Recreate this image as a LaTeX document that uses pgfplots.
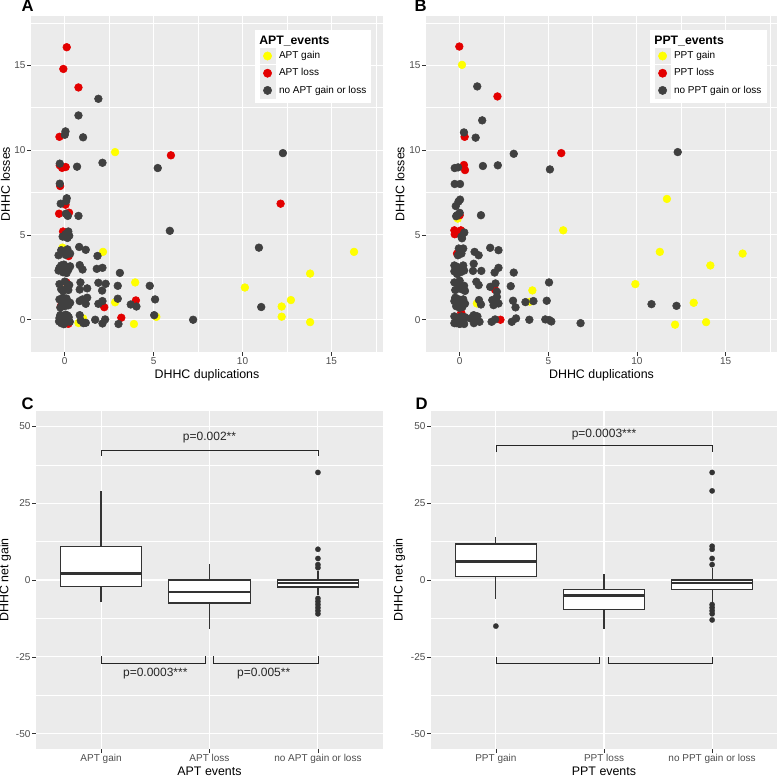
\documentclass[border=0pt]{standalone}
\usepackage{fontspec}
\setmainfont{Liberation Sans}
\usepackage{pgfplots}
\pgfplotsset{compat=1.18}
\usepgfplotslibrary{statistics}

\definecolor{gray92}{HTML}{EBEBEB}
\definecolor{grey20}{HTML}{333333}
\definecolor{grey30}{HTML}{4D4D4D}
\definecolor{ptgrey}{HTML}{404040}
\definecolor{ptred}{HTML}{E30000}
\definecolor{ptyellow}{HTML}{FFFF00}

\pgfplotsset{
  ggbase/.style={
    scale only axis,
    axis background/.style={fill=gray92},
    axis line style={draw=none},
    grid=both,
    major grid style={white, line width=0.8pt},
    minor grid style={white, line width=0.4pt},
    tick align=outside,
    tick pos=left,
    major tick length=3pt,
    minor tick length=0pt,
    tick style={grey20, line width=0.45pt},
    ticklabel style={font=\fontsize{7.5}{8.5}\selectfont, text=grey30, inner sep=1pt},
    label style={font=\fontsize{9.3}{11}\selectfont},
  },
  scat/.style={
    ggbase,
    xmin=-1.9, xmax=17.9, ymin=-1.9, ymax=17.9,
    xtick={0,5,10,15}, xticklabels={0,5,10,15},
    ytick={0,5,10,15}, yticklabels={0,5,10,15},
    minor xtick={2.5,7.5,12.5,17.5},
    minor ytick={2.5,7.5,12.5,17.5},
    xlabel={DHHC duplications}, ylabel={DHHC losses},
    xlabel style={at={(axis description cs:0.5,-0.068)}, anchor=center},
    legend cell align=left,
    legend style={draw=none, fill=white, anchor=north west, inner sep=3.3pt,
      font=\fontsize{7.5}{8.5}\selectfont, nodes={inner sep=0.6pt}, column sep=2pt, row sep=0.9pt},
    legend image code/.code={
      \fill[gray92] (0pt,-5.8pt) rectangle (11.6pt,5.8pt);
      \draw[mark size=3.1pt] plot coordinates {(5.8pt,0pt)};
    },
  },
  pts/.style={only marks, mark=*, mark size=2.9pt, color=#1, mark options={draw=#1, fill=#1}},
  boxax/.style={
    ggbase,
    xmin=0.4, xmax=3.6, ymin=-55, ymax=55,
    xtick={1,2,3},
    ytick={-50,-25,0,25,50}, yticklabels={-50,-25,0,25,50},
    minor ytick={-37.5,-12.5,12.5,37.5},
    ylabel={DHHC net gain},
    xlabel style={at={(axis description cs:0.5,-0.065)}, anchor=center},
    boxplot/draw direction=y,
    boxplot/box extend=0.75,
    boxplot/whisker extend=0,
    boxplot/every box/.style={fill=white},
    boxplot/every median/.style={line width=2pt},
  },
  bx/.style={draw=grey20, line width=0.9pt, mark=*, mark size=2pt,
    mark options={fill=grey20, draw=grey20, solid, line width=0.2pt}},
  brk/.style={black!85, line width=0.5pt, mark=none},
}

\begin{document}
\begin{tikzpicture}
\useasboundingbox (0,0) rectangle (583.5pt,582pt);

% ---------------- Panel A ----------------
\begin{axis}[scat, at={(23.25pt,570pt)}, anchor=north west, width=264pt, height=252pt,
  ylabel style={at={(axis description cs:-0.0725,0.5)}, anchor=center},
  legend style={at={(axis description cs:0.636,0.958)}}]
\addlegendimage{empty legend}
\addlegendentry{\hspace*{-14.8pt}\fontsize{9.2}{10}\selectfont\bfseries APT\_events}
\addplot[pts=ptyellow] coordinates {
(2.83,9.88) (-0.13,4.25) (2.15,4.0) (0.04,1.8) (3.96,2.2) (2.83,1.03) (0.77,-0.19)
(1.03,0.08) (3.89,-0.25) (5.15,0.17) (10.13,1.9) (13.8,2.72) (16.27,4.0) (12.72,1.16)
(12.2,0.78) (12.2,0.18) (13.8,-0.14) (-0.05,0.1)
};
\addlegendentry{APT gain}
\addplot[pts=ptred] coordinates {
(0.11,16.06) (-0.08,14.78) (0.77,13.69) (-0.3,10.78) (5.97,9.69) (-0.28,9.1) (-0.15,8.95)
(0.05,9.0) (-0.26,7.88) (12.14,6.84) (0.04,6.78) (-0.32,6.25) (0.24,6.31) (-0.1,5.2)
(0.22,3.75) (0.09,2.2) (2.22,0.74) (4.0,1.14) (3.18,0.12) (0.0,-0.22) (0.2,-0.24) (-0.22,0.8)
};
\addlegendentry{APT loss}
\addplot[pts=ptgrey] coordinates {
(1.89,13.02) (0.77,12.04) (0.04,11.1) (0.0,10.9) (1.03,10.75) (12.27,9.82) (-0.28,9.2)
(0.69,9.02) (2.12,9.25) (5.23,8.94) (-0.28,8.02) (0.11,7.16) (0.08,7.0) (-0.23,6.84)
(0.06,6.25) (0.17,6.12) (0.77,6.12) (5.91,5.24) (0.2,5.2) (0.05,5.05) (-0.12,4.9)
(0.15,4.82) (0.25,4.95) (10.92,4.25) (0.81,4.29) (1.18,4.12) (1.84,3.76) (11.05,0.75)
(7.22,0.0) (3.1,2.76) (1.8,3.0) (2.12,3.06) (0.84,3.22) (1.0,2.96) (4.78,2.0) (2.98,2.0)
(0.88,2.2) (0.84,1.78) (1.26,1.85) (1.89,2.18) (2.3,2.12) (2.1,1.72) (5.08,1.2) (2.98,1.24)
(3.71,0.9) (4.03,0.78) (0.84,1.1) (1.26,1.3) (1.18,0.94) (1.0,1.2) (1.89,0.94) (2.12,1.1)
(5.03,0.27) (3.02,-0.25) (1.71,0.0) (2.12,-0.22) (2.27,0.02) (1.18,-0.18) (0.84,0.27)
(0.9,-0.05) (1.05,-0.2)
(-0.3,0.1) (-0.2,-0.2) (-0.1,0.2) (0.0,0.02) (0.12,-0.1) (0.22,0.15) (0.28,-0.12)
(-0.25,0.28) (0.05,0.3) (-0.05,-0.26) (0.15,0.25) (-0.32,-0.1)
(-0.3,1.2) (-0.15,0.9) (-0.05,1.1) (0.1,1.25) (0.2,0.85) (0.3,1.0) (-0.25,0.72) (0.0,0.8) (-0.1,1.3)
(-0.3,2.1) (-0.2,1.8) (0.0,2.25) (0.15,1.9) (0.25,2.05) (-0.1,1.7) (0.2,1.75)
(-0.35,2.9) (-0.2,3.2) (-0.1,2.8) (0.05,3.1) (0.2,2.95) (0.3,3.15) (-0.3,3.05) (0.1,2.75) (-0.05,3.25)
(-0.35,3.8) (-0.2,4.1) (0.05,3.82) (0.15,4.15) (0.3,3.9) (-0.1,4.0)
};
\addlegendentry{no APT gain or loss}
\end{axis}

% ---------------- Panel B ----------------
\begin{axis}[scat, at={(319.5pt,570pt)}, anchor=north west, width=263.25pt, height=252pt,
  ylabel style={at={(axis description cs:-0.074,0.5)}, anchor=center},
  legend style={at={(axis description cs:0.638,0.958)}}]
\addlegendimage{empty legend}
\addlegendentry{\hspace*{-14.8pt}\fontsize{9.2}{10}\selectfont\bfseries PPT\_events}
\addplot[pts=ptyellow] coordinates {
(0.13,15.02) (-0.11,5.96) (5.84,5.27) (11.69,7.12) (11.29,4.0) (15.96,3.9) (14.14,3.2)
(9.91,2.1) (13.2,1.0) (13.9,-0.14) (12.15,-0.29) (4.1,1.73) (3.97,1.06) (0.97,0.96)
};
\addlegendentry{PPT gain}
\addplot[pts=ptred] coordinates {
(-0.02,16.1) (2.13,13.16) (0.28,10.78) (5.73,9.82) (0.24,9.12) (0.3,8.82) (0.0,6.16)
(-0.3,5.27) (-0.28,5.04) (0.07,5.27) (-0.15,5.1) (-0.15,3.9) (1.99,1.78) (2.3,0.0) (0.09,0.41)
};
\addlegendentry{PPT loss}
\addplot[pts=ptgrey] coordinates {
(0.99,13.75) (1.27,11.75) (0.24,11.04) (0.9,10.73) (3.05,9.78) (12.3,9.88) (1.31,9.06)
(2.15,9.1) (5.09,8.86) (-0.28,8.94) (-0.09,8.98) (-0.28,8.0) (0.02,8.0) (-0.22,6.7)
(-0.07,6.96) (0.02,7.08) (-0.15,6.16) (1.2,6.16) (0.1,4.9) (0.26,5.14) (0.13,4.8)
(1.72,4.24) (2.19,4.1) (0.84,4.0) (1.07,3.8) (0.79,3.3) (0.75,2.88) (1.22,2.88) (2.19,3.06)
(1.97,2.78) (3.05,2.78) (0.94,2.24) (1.07,2.04) (1.72,1.94) (2.02,2.14) (2.1,1.65) (2.88,1.98)
(5.04,2.2) (3.01,1.12) (3.15,0.73) (3.71,1.04) (4.16,1.1) (4.91,1.12) (10.82,0.92) (12.23,0.82)
(1.09,1.16) (1.2,0.9) (1.84,1.16) (1.91,0.86) (2.1,1.35) (2.19,0.96) (3.93,0.0) (2.94,-0.12)
(3.18,0.08) (1.8,-0.12) (2.0,0.02) (4.83,0.02) (5.06,-0.02) (5.17,-0.1) (6.82,-0.2)
(0.79,0.27) (0.94,-0.02) (1.12,-0.12) (0.6,0.08) (0.8,-0.2) (1.0,0.2)
(-0.3,0.2) (-0.2,-0.2) (-0.1,0.1) (0.0,-0.25) (0.1,0.2) (0.2,-0.1) (0.3,0.15) (-0.3,-0.2)
(0.25,-0.25) (0.05,0.0)
(-0.3,1.1) (-0.2,0.8) (-0.05,1.2) (0.1,0.9) (0.2,1.2) (0.3,0.95) (-0.25,1.3) (0.0,0.7) (0.15,0.75)
(-0.3,2.2) (-0.25,1.75) (-0.05,2.1) (0.1,1.8) (0.25,2.0) (0.0,2.3) (0.3,1.7)
(-0.3,3.2) (-0.3,2.85) (-0.1,3.1) (0.05,2.8) (0.2,3.2) (0.25,2.9) (-0.15,2.7)
(-0.1,3.8) (0.05,4.1) (0.2,4.2) (0.1,3.9) (-0.05,4.2) (-0.2,6.1) (0.0,6.3)
};
\addlegendentry{no PPT gain or loss}
\end{axis}

% ---------------- Panel C ----------------
\begin{axis}[boxax, at={(27pt,273.75pt)}, anchor=north west, width=260.25pt, height=253.5pt,
  xticklabels={APT gain, APT loss, no APT gain or loss},
  xlabel={APT events},
  ylabel style={at={(axis description cs:-0.089,0.5)}, anchor=center}]
\addplot[bx, boxplot prepared={draw position=1, median=2.1, upper quartile=11, lower quartile=-2.2,
  upper whisker=29.1, lower whisker=-7.1}] coordinates {};
\addplot[bx, boxplot prepared={draw position=2, median=-3.9, upper quartile=0, lower quartile=-7.5,
  upper whisker=5.1, lower whisker=-15.9}] coordinates {};
\addplot[bx, boxplot prepared={draw position=3, median=-1, upper quartile=0, lower quartile=-2.3,
  upper whisker=3, lower whisker=-5}] table[row sep=\\, y index=0] {data\\ 35\\ 10\\ 7\\ 5\\ 4\\ -6\\ -7\\ -8\\ -9\\ -10\\ -11\\};
\addplot[brk] coordinates {(1,40.5) (1,42.3) (3,42.3) (3,40.5)};
\addplot[brk] coordinates {(1,-24.8) (1,-27) (1.957,-27) (1.957,-24.8)};
\addplot[brk] coordinates {(2.034,-24.8) (2.034,-27) (3,-27) (3,-24.8)};
\node[font=\fontsize{9}{11}\selectfont, text=black!85] at (axis cs:2,46.4) {p=0.002**};
\node[font=\fontsize{9}{11}\selectfont, text=black!85] at (axis cs:1.5,-30.4) {p=0.0003***};
\node[font=\fontsize{9}{11}\selectfont, text=black!85] at (axis cs:2.5,-30.4) {p=0.005**};
\end{axis}

% ---------------- Panel D ----------------
\begin{axis}[boxax, at={(323.25pt,273.75pt)}, anchor=north west, width=259.5pt, height=253.5pt,
  xticklabels={PPT gain, PPT loss, no PPT gain or loss},
  xlabel={PPT events},
  ylabel style={at={(axis description cs:-0.091,0.5)}, anchor=center}]
\addplot[bx, boxplot prepared={draw position=1, median=6.1, upper quartile=11.7, lower quartile=1.2,
  upper whisker=14, lower whisker=-6.1}] table[row sep=\\, y index=0] {data\\ -15\\};
\addplot[bx, boxplot prepared={draw position=2, median=-5, upper quartile=-3, lower quartile=-9.5,
  upper whisker=2, lower whisker=-15.9}] coordinates {};
\addplot[bx, boxplot prepared={draw position=3, median=-1, upper quartile=0, lower quartile=-3.1,
  upper whisker=4, lower whisker=-7}] table[row sep=\\, y index=0] {data\\ 35\\ 29\\ 11\\ 10\\ 7\\ 5\\ -8\\ -9\\ -10\\ -11\\ -13\\};
\addplot[brk] coordinates {(1,41.6) (1,43.8) (3,43.8) (3,41.6)};
\addplot[brk] coordinates {(1,-25) (1,-27) (1.96,-27) (1.96,-25)};
\addplot[brk] coordinates {(2.04,-25) (2.04,-27) (3,-27) (3,-25)};
\node[font=\fontsize{9}{11}\selectfont, text=black!85] at (axis cs:2,47.3) {p=0.0003***};
\end{axis}

% panel letters
\node[anchor=base west, font=\fontsize{12.5}{14}\selectfont\bfseries] at (12.75pt,573pt) {A};
\node[anchor=base west, font=\fontsize{12.5}{14}\selectfont\bfseries] at (307.5pt,573pt) {B};
\node[anchor=base west, font=\fontsize{12.5}{14}\selectfont\bfseries] at (12.75pt,275.25pt) {C};
\node[anchor=base west, font=\fontsize{12.5}{14}\selectfont\bfseries] at (308.25pt,275.25pt) {D};
\end{tikzpicture}
\end{document}
